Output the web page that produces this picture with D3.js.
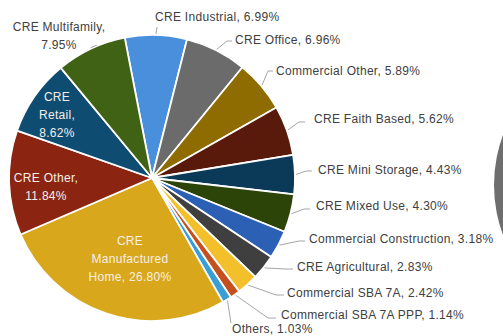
<!DOCTYPE html>
<html>
<head>
<meta charset="utf-8">
<script src="https://cdn.jsdelivr.net/npm/d3@7"></script>
<style>
  html, body { margin: 0; padding: 0; background: #fff; }
  svg { display: block; }
  text { font-family: "Liberation Sans", Arial, sans-serif; }
</style>
</head>
<body>
<svg id="chart" width="503" height="336"></svg>
<script>
// Loan portfolio mix by collateral type (% of total), clockwise order
const categories = [
  "CRE Industrial", "CRE Office", "Commercial Other", "CRE Faith Based",
  "CRE Mini Storage", "CRE Mixed Use", "Commercial Construction", "CRE Agricultural",
  "Commercial SBA 7A", "Commercial SBA 7A PPP", "Others", "CRE Manufactured Home",
  "CRE Other", "CRE Retail", "CRE Multifamily"
];
const values = [6.99, 6.96, 5.89, 5.62, 4.43, 4.30, 3.18, 2.83, 2.42, 1.14, 1.03, 26.80, 11.84, 8.62, 7.95];
const colors = [
  "#4a8fdc", "#6b6b6b", "#8e6c02", "#5a1a0b",
  "#0a3a58", "#2d4408", "#2c60b4", "#3f3f3f",
  "#f3bf2a", "#c5501f", "#3a9ed6", "#d8a71b",
  "#8b2511", "#0f4c71", "#406215"
];

// Label placement: inside labels are centred, outside labels start at x with a leader anchor
const labelLayout = [
  { x: 155, y: 21, anchor: "start", lead: [157, 27], knee: 0 },
  { x: 235, y: 44, anchor: "start", lead: [232, 41], knee: 5 },
  { x: 276, y: 75, anchor: "start", lead: [273, 71], knee: 5 },
  { x: 314, y: 123, anchor: "start", lead: [305, 122], knee: 6 },
  { x: 318, y: 174, anchor: "start", lead: [312, 171], knee: 6 },
  { x: 316, y: 210, anchor: "start", lead: [310, 209], knee: 6 },
  { x: 309, y: 243, anchor: "start", lead: [305, 241], knee: 6 },
  { x: 297, y: 271, anchor: "start", lead: [293, 269], knee: 8 },
  { x: 287, y: 297, anchor: "start", lead: [284, 295], knee: 8 },
  { x: 281, y: 319, anchor: "start", lead: [276, 318], knee: 8 },
  { x: 232, y: 333, anchor: "start", lead: [231, 323], knee: 0 },
  { x: 130, y: 245, anchor: "middle", inside: true, wrap: [1, 1, 2] },
  { x: 46, y: 182, anchor: "middle", inside: true, wrap: [2, 1] },
  { x: 57, y: 101, anchor: "middle", inside: true, wrap: [1, 1, 1] },
  { x: 59, y: 31, anchor: "middle", wrap: [2, 1], lead: [97, 45], knee: 0 }
];

const svg = d3.select("#chart");
const cx = 152, cy = 178, radius = 143;
const offset = -11 * Math.PI / 180;

// Neighbouring chart's pie, only its left rim shows at the edge
svg.append("circle")
  .attr("cx", 637).attr("cy", 185).attr("r", 143)
  .attr("fill", "#6e6e6e");

const data = categories.map((c, i) => ({ name: c, value: values[i], color: colors[i], layout: labelLayout[i] }));

const pie = d3.pie().sort(null).value(d => d.value)
  .startAngle(offset).endAngle(offset + 2 * Math.PI);
const arcs = pie(data);
const arc = d3.arc().innerRadius(0).outerRadius(radius);

const g = svg.append("g").attr("transform", `translate(${cx},${cy})`);

g.selectAll("path.slice")
  .data(arcs)
  .join("path")
  .attr("class", "slice")
  .attr("d", arc)
  .attr("fill", d => d.data.color)
  .attr("stroke", "#ffffff")
  .attr("stroke-width", 1.8)
  .attr("stroke-linejoin", "round");

// Leader lines from slice rim to label, with a short horizontal run at the label end
const rimPoint = (d, r) => {
  const a = (d.startAngle + d.endAngle) / 2;
  return [cx + r * Math.sin(a), cy - r * Math.cos(a)];
};
svg.selectAll("path.leader")
  .data(arcs.filter(d => d.data.layout.lead))
  .join("path")
  .attr("class", "leader")
  .attr("d", d => {
    const L = d.data.layout;
    const p = rimPoint(d, radius + 1);
    const q = L.lead;
    const pts = L.knee ? [p, [q[0] - L.knee, q[1]], q] : [p, q];
    return d3.line()(pts);
  })
  .attr("fill", "none")
  .attr("stroke", "#a6a6a6")
  .attr("stroke-width", 1);

// Labels
const lineH = 18;
arcs.forEach(d => {
  const L = d.data.layout;
  const full = `${d.data.name}, ${d.data.value.toFixed(2)}%`;
  const words = full.split(" ");
  let lines = [full];
  if (L.wrap) {
    lines = [];
    let k = 0;
    L.wrap.forEach(n => { lines.push(words.slice(k, k + n).join(" ")); k += n; });
  }
  const t = svg.append("text")
    .attr("x", L.x).attr("y", L.y)
    .attr("text-anchor", L.anchor)
    .attr("font-size", 12)
    .attr("letter-spacing", 0.3)
    .attr("fill", L.inside ? "#f6efe8" : "#404040");
  lines.forEach((s, i) => {
    t.append("tspan")
      .attr("x", L.x)
      .attr("y", L.y + i * lineH)
      .text(s);
  });
});
</script>
</body>
</html>
